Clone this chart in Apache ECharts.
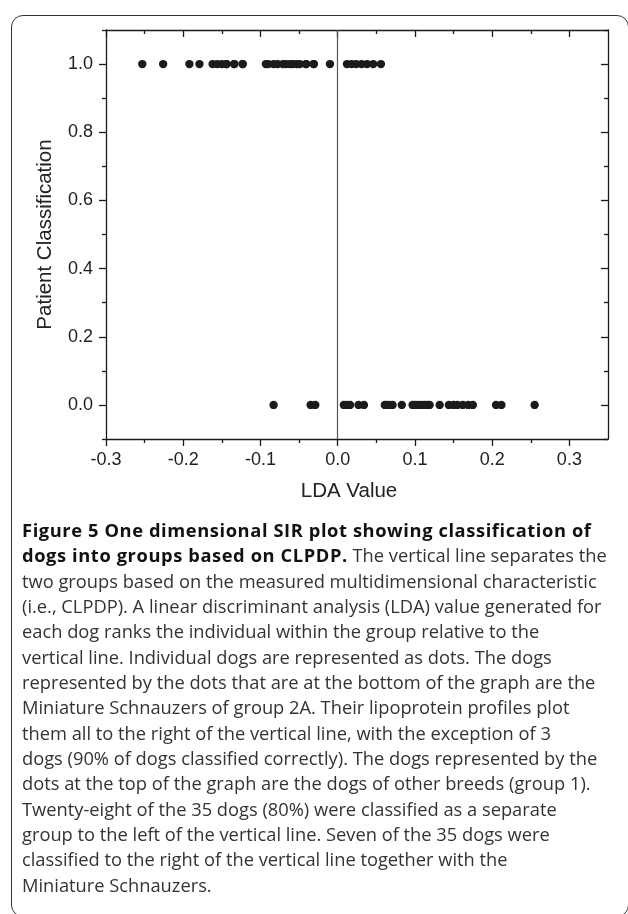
<!DOCTYPE html>
<html>
<head>
<meta charset="utf-8">
<script src="https://cdn.jsdelivr.net/npm/echarts@6/dist/echarts.min.js"></script>
<style>
  html, body { margin: 0; padding: 0; background: #fff; }
  #wrap { position: relative; width: 628px; height: 914px; overflow: hidden; }
  #chart { position: absolute; left: 0; top: 0; width: 628px; height: 914px; }
  #frame {
    position: absolute; left: 11px; top: 15px; width: 617.5px; height: 902px;
    border: 1.5px solid #333; border-radius: 12px; box-sizing: border-box;
  }
  #caption {
    position: absolute; left: 22px; top: 517px;
    font-family: "Open Sans", Lato, sans-serif; font-size: 18.3px; line-height: 25.35px;
    color: #333; white-space: nowrap;
  }
  #caption b { color: #111; font-weight: 700; letter-spacing: 0.6px; }
</style>
</head>
<body>
<div id="wrap">
  <div id="frame"></div>
  <div id="chart"></div>
  <div id="caption">
    <b>Figure 5 One dimensional SIR plot showing classification of</b><br>
    <b>dogs into groups based on CLPDP.</b> The vertical line separates the<br>
    two groups based on the measured multidimensional characteristic<br>
    (i.e., CLPDP). A linear discriminant analysis (LDA) value generated for<br>
    each dog ranks the individual within the group relative to the<br>
    vertical line. Individual dogs are represented as dots. The dogs<br>
    represented by the dots that are at the bottom of the graph are the<br>
    Miniature Schnauzers of group 2A. Their lipoprotein profiles plot<br>
    them all to the right of the vertical line, with the exception of 3<br>
    dogs (90% of dogs classified correctly). The dogs represented by the<br>
    dots at the top of the graph are the dogs of other breeds (group 1).<br>
    Twenty-eight of the 35 dogs (80%) were classified as a separate<br>
    group to the left of the vertical line. Seven of the 35 dogs were<br>
    classified to the right of the vertical line together with the<br>
    Miniature Schnauzers.
  </div>
</div>
<script>
// LDA values of the dogs of other breeds (group 1), patient classification 1
const otherBreedsLDA = [
  -0.253, -0.226, -0.192, -0.179, -0.162, -0.156, -0.150, -0.144, -0.144,
  -0.134, -0.134, -0.123, -0.123, -0.093, -0.090, -0.083, -0.078, -0.071,
  -0.067, -0.062, -0.058, -0.053, -0.049, -0.041, -0.041, -0.031, -0.031,
  -0.010,
  0.012, 0.018, 0.024, 0.031, 0.038, 0.046, 0.056
];
// LDA values of the Miniature Schnauzers (group 2A), patient classification 0
const schnauzerLDA = [
  -0.083, -0.035, -0.029,
  0.008, 0.012, 0.016, 0.027, 0.034,
  0.061, 0.064, 0.067, 0.071,
  0.083,
  0.097, 0.100, 0.104, 0.108, 0.112, 0.116, 0.119,
  0.132,
  0.144, 0.150, 0.155, 0.162, 0.169, 0.175,
  0.205, 0.212,
  0.255
];
const otherBreedsClass = 1.0;
const schnauzerClass = 0.0;
const separatorLDA = 0.0;

// axis ticks and labels
const xMajorTicks = [-0.3, -0.2, -0.1, 0.0, 0.1, 0.2, 0.3];
const xMinorTicks = [-0.25, -0.15, -0.05, 0.05, 0.15, 0.25];
const yMajorTicks = [0.0, 0.2, 0.4, 0.6, 0.8, 1.0];
const yMinorTicks = [-0.1, 0.1, 0.3, 0.5, 0.7, 0.9, 1.1];
const xRange = [-0.3, 0.35];
const yRange = [-0.1, 1.1];

const axisColor = '#1a1a1a';
const fontFamily = '"Liberation Sans", Arial, sans-serif';
const plotRect = { left: 106, top: 30, width: 502, height: 409 };

function axisDef(range, gridIndex, position, ticks, len, inside, labels, line, margin) {
  return {
    type: 'value', gridIndex: gridIndex, position: position, min: range[0], max: range[1],
    axisLine: { show: line, onZero: false, lineStyle: { color: axisColor, width: 1.3 } },
    axisTick: { show: true, inside: inside, length: len, customValues: ticks,
                lineStyle: { color: axisColor, width: 1.3 } },
    axisLabel: labels ? {
      show: true, customValues: ticks, margin: margin, color: '#222',
      fontFamily: fontFamily, fontSize: 18,
      formatter: v => v.toFixed(1)
    } : { show: false },
    splitLine: { show: false }
  };
}

// grid 0: frame with major ticks and labels; grid 1: same rectangle, minor ticks only
const xAxes = [
  axisDef(xRange, 0, 'bottom', xMajorTicks, 7, false, true, true, 12),
  axisDef(xRange, 0, 'top', xMajorTicks, 7, true, false, true),
  axisDef(xRange, 1, 'bottom', xMinorTicks, 4, false, false, false),
  axisDef(xRange, 1, 'top', xMinorTicks, 4, true, false, false)
];
Object.assign(xAxes[0], {
  name: 'LDA Value', nameLocation: 'middle', nameGap: 42,
  nameTextStyle: { fontFamily: fontFamily, fontSize: 20.5, color: '#222', padding: [0, 16, 0, 0] }
});
const yAxes = [
  axisDef(yRange, 0, 'left', yMajorTicks, 7, false, true, true, 13),
  axisDef(yRange, 0, 'right', yMajorTicks, 7, true, false, true),
  axisDef(yRange, 1, 'left', yMinorTicks, 4, false, false, false),
  axisDef(yRange, 1, 'right', yMinorTicks, 4, true, false, false)
];
Object.assign(yAxes[0], {
  name: 'Patient Classification', nameLocation: 'middle', nameGap: 50,
  nameTextStyle: { fontFamily: fontFamily, fontSize: 20.5, color: '#222' }
});

const chart = echarts.init(document.getElementById('chart'), null, { renderer: 'canvas' });
chart.setOption({
  animation: false,
  backgroundColor: 'transparent',
  grid: [
    Object.assign({ containLabel: false }, plotRect),
    Object.assign({ containLabel: false }, plotRect)
  ],
  xAxis: xAxes,
  yAxis: yAxes,
  series: [
    {
      name: 'Other breeds', type: 'scatter', xAxisIndex: 0, yAxisIndex: 0,
      symbol: 'circle', symbolSize: 8.4,
      itemStyle: { color: '#1b1b1b', opacity: 1 },
      data: otherBreedsLDA.map(v => [v, otherBreedsClass]),
      markLine: {
        silent: true, symbol: 'none', label: { show: false },
        lineStyle: { color: '#555', width: 1.2, type: 'solid' },
        data: [{ xAxis: separatorLDA }]
      }
    },
    {
      name: 'Miniature Schnauzers', type: 'scatter', xAxisIndex: 0, yAxisIndex: 0,
      symbol: 'circle', symbolSize: 8.4,
      itemStyle: { color: '#1b1b1b', opacity: 1 },
      data: schnauzerLDA.map(v => [v, schnauzerClass])
    }
  ]
});
</script>
</body>
</html>
